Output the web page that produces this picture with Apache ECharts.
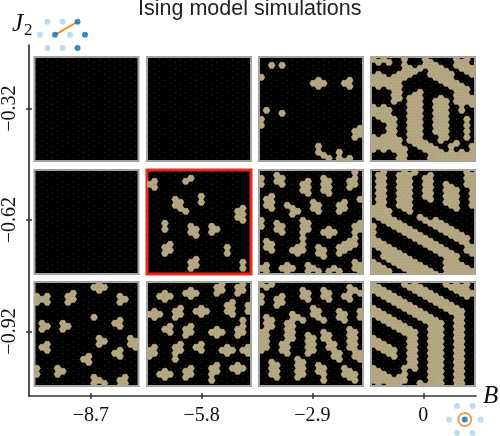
<!DOCTYPE html>
<html><head><meta charset="utf-8">
<style>html,body{margin:0;padding:0;background:#fff}#c{width:500px;height:436px}</style>
<script src="https://cdn.jsdelivr.net/npm/echarts@6/dist/echarts.min.js"></script>
</head><body><div id="c"></div>
<script>
// Axis values
const bLabels = [-8.7, -5.8, -2.9, 0];
const j2Labels = [-0.32, -0.62, -0.92];
// Spin-up sites as vertical runs [column, firstHalfRow, lastHalfRow]
const empty = [];
const r1c3 = [[2,2,2],[4,2,2],[0,6,6],[1,17,17],[0,20,22],[4,18,18],[10,8,8],[11,7,9],[12,8,8],[16,8,8],[17,7,9],[19,23,25],[18,24,26],[11,29,31],[12,32,32],[13,33,33],[15,31,33],[16,34,34],[17,33,33]];
const r1c4 = [[0,0,1],[0,5,9],[0,16,19],[0,26,30],[1,0,1],[1,5,9],[1,16,20],[1,26,30],[2,0,1],[2,5,9],[2,16,20],[2,26,30],[3,0,1],[3,6,10],[3,16,30],[4,6,14],[4,19,31],[5,4,13],[5,27,34],[6,0,7],[6,30,34],[7,3,6],[7,13,27],[8,3,5],[8,11,28],[9,3,4],[9,11,30],[10,0,3],[10,28,31],[11,0,5],[11,29,34],[12,2,6],[12,13,24],[12,30,34],[13,3,7],[13,13,27],[13,31,34],[14,4,8],[14,14,26],[14,32,34],[15,0,0],[15,5,10],[15,29,34],[16,0,2],[16,7,15],[16,27,29],[16,32,34],[17,0,3],[17,9,18],[17,30,34],[18,0,4],[18,10,14],[18,20,27],[18,32,34],[19,2,5],[19,12,15],[19,28,33]];
const r2c2 = [[1,3,5],[0,4,4],[7,3,3],[8,2,2],[10,8,10],[5,9,11],[6,10,12],[7,13,13],[3,17,19],[8,18,20],[9,19,21],[12,18,20],[13,19,19],[18,12,16],[17,13,15],[4,24,26],[3,25,27],[9,29,31],[8,30,32],[15,25,27],[18,30,32]];
const r2c3 = [[0,2,4],[3,1,3],[4,2,4],[9,3,7],[8,4,6],[12,2,6],[13,3,7],[18,0,4],[17,3,5],[1,9,11],[2,8,12],[6,12,14],[5,11,11],[7,13,13],[10,10,12],[11,11,13],[16,10,12],[15,11,13],[19,9,9],[0,16,18],[3,17,19],[4,18,20],[8,16,26],[9,17,19],[7,25,27],[6,26,26],[12,20,20],[14,20,20],[13,19,21],[19,17,19],[18,18,24],[17,23,25],[16,24,26],[15,25,27],[1,23,25],[2,24,26],[11,25,27],[12,26,28],[0,32,32],[1,31,33],[5,31,33],[6,32,32],[4,32,32],[9,31,33],[10,32,32],[11,33,33],[14,32,32],[15,33,33],[13,33,33],[19,31,33],[18,30,32]];
const r2c4 = [[0,11,14],[0,18,24],[0,29,34],[1,0,15],[1,22,26],[1,31,34],[2,0,17],[2,23,28],[2,32,34],[3,13,18],[3,24,29],[3,33,34],[4,15,19],[4,25,30],[5,0,11],[5,17,20],[5,26,31],[6,0,12],[6,17,21],[6,27,33],[7,0,13],[7,18,22],[7,28,34],[8,0,1],[8,19,23],[8,29,34],[9,0,0],[9,15,16],[9,21,24],[9,30,34],[10,2,9],[10,16,17],[10,22,25],[10,31,34],[11,0,10],[11,16,18],[11,23,26],[11,32,34],[12,16,19],[12,24,27],[12,33,34],[13,17,20],[13,25,28],[13,34,34],[14,3,11],[14,17,21],[14,26,29],[14,30,34],[15,4,12],[15,18,22],[15,27,34],[16,6,13],[16,19,23],[16,28,34],[17,20,24],[17,30,34],[18,0,4],[18,22,26],[18,32,34],[19,0,11],[19,24,27],[19,33,34]];
const r3c1 = [[11,1,1],[12,0,2],[13,1,1],[0,4,6],[1,5,5],[2,4,6],[7,3,5],[6,4,6],[16,4,6],[17,5,5],[11,11,11],[16,12,14],[15,13,13],[1,13,15],[2,14,14],[5,13,15],[6,14,14],[12,18,20],[13,19,19],[18,18,20],[19,19,21],[1,21,21],[2,20,22],[16,22,24],[15,23,23],[10,24,26],[9,25,25],[0,28,30],[4,28,30],[5,29,29],[11,31,33],[12,32,32],[13,33,33],[17,31,33],[16,32,34]];
const r3c2 = [[2,4,4],[3,3,5],[4,4,4],[7,3,3],[8,2,4],[9,3,3],[14,0,2],[13,1,3],[18,0,2],[17,1,3],[1,9,11],[2,10,10],[0,10,10],[6,8,10],[5,9,11],[10,8,10],[9,9,9],[11,9,9],[16,6,10],[15,7,9],[19,7,9],[4,14,16],[3,15,15],[8,14,16],[7,15,17],[13,15,17],[12,16,16],[14,16,16],[18,12,16],[17,15,17],[1,21,23],[0,22,24],[6,20,22],[5,21,25],[10,20,22],[9,21,21],[15,21,23],[14,22,22],[16,22,22],[19,21,23],[18,22,22],[3,29,31],[2,30,30],[4,30,30],[8,28,30],[7,29,31],[13,27,29],[12,28,32],[17,27,29],[16,28,28],[18,28,28]];
const r3c3 = [[2,0,0],[1,1,1],[0,0,0],[0,4,6],[4,4,6],[3,5,7],[8,2,4],[9,3,5],[12,2,4],[13,3,5],[16,4,4],[17,1,5],[18,2,2],[19,3,3],[10,8,10],[11,9,11],[12,12,12],[15,9,11],[16,10,12],[19,9,11],[1,11,21],[2,12,14],[0,16,22],[6,10,18],[7,11,11],[8,12,12],[5,13,23],[4,20,22],[9,17,23],[10,18,22],[12,16,18],[13,17,21],[14,20,24],[15,23,25],[17,15,21],[18,16,24],[19,23,25],[3,27,31],[2,26,30],[7,25,31],[8,26,30],[11,27,29],[12,28,32],[16,28,30],[17,29,31],[18,30,32]];
const r3c4 = [[0,0,2],[0,7,11],[0,17,21],[0,28,32],[1,0,3],[1,8,12],[1,18,22],[1,29,33],[2,1,4],[2,9,13],[2,19,23],[2,30,33],[3,2,5],[3,10,14],[3,20,24],[3,31,33],[4,3,6],[4,11,15],[4,22,25],[4,31,34],[5,0,0],[5,4,7],[5,12,16],[5,30,33],[6,0,1],[6,5,8],[6,13,17],[6,28,32],[7,0,2],[7,6,9],[7,14,28],[8,0,3],[8,7,10],[8,15,29],[9,1,4],[9,8,11],[9,33,34],[10,2,5],[10,9,12],[10,33,34],[11,3,5],[11,10,34],[12,4,7],[12,12,34],[13,0,0],[13,5,8],[13,13,34],[14,0,1],[14,6,9],[15,0,2],[15,7,10],[16,0,3],[16,8,34],[17,0,4],[17,9,34],[18,0,4],[19,2,4]];
const panels = [empty, empty, r1c3, r1c4, empty, r2c2, r2c3, r2c4, r3c1, r3c2, r3c3, r3c4];
// Inset lattices: [column, row]
const iconLightJ = [[1,0],[3,0],[0,1],[4,1],[1,2],[3,2]];
const iconDarkJ = [[5,0],[2,1],[6,1],[5,2]];
const iconBondJ = [[2,1],[5,0]];
const iconLightB = [[1,0],[3,0],[0,1],[4,1],[1,2],[3,2]];
const iconDarkB = [[2,1]];

const cols = 20, halfRows = 34;
const tan = '#b6a983', frame = '#a3a3a3', red = '#e9291b', ink = '#333';
const lefts = [34.5, 147, 259, 371], tops = [57, 170, 282], side = 104;
const grid = [], xAxis = [], yAxis = [], series = [];
const hide = {show:false};

function hex(params, api) {
  const p = api.coord([api.value(0), api.value(1)]);
  const R = api.size([1,0])[0] / 1.5, s = R * Math.sqrt(3) / 2;
  return {type:'polygon', shape:{points:[[p[0]-R,p[1]],[p[0]-R/2,p[1]-s],[p[0]+R/2,p[1]-s],[p[0]+R,p[1]],[p[0]+R/2,p[1]+s],[p[0]-R/2,p[1]+s]]},
    style:{fill:tan, stroke:tan, lineWidth:0.7, lineJoin:'round'}};
}
const sites = [];
for (let c = 0; c < cols; c++) for (let h = c % 2; h <= halfRows; h += 2) sites.push([c,h]);

panels.forEach((runs, i) => {
  const rw = Math.floor(i / 4), cl = i % 4, hot = i === 5;
  grid.push({left:lefts[cl], top:tops[rw], width:side, height:side, show:true, backgroundColor:'#000',
    borderColor: hot ? red : frame, borderWidth: hot ? 3 : 2});
  xAxis.push({type:'value', gridIndex:i, min:-0.44, max:19.56, show:false});
  yAxis.push({type:'value', gridIndex:i, min:-0.77, max:33.9, inverse:true, show:false});
  const cells = [];
  runs.forEach(([c,a,b]) => { for (let h = a; h <= b; h++) if ((c + h) % 2 === 0) cells.push([c,h]); });
  series.push({type:'custom', xAxisIndex:i, yAxisIndex:i, data:cells, renderItem:hex, clip:true, silent:true, z:2});
  series.push({type:'scatter', xAxisIndex:i, yAxisIndex:i, data:sites, symbolSize:1, silent:true, z:3,
    itemStyle:{color:'#6e6e6e', opacity:0.6}});
});

// Outer axes
const fmt = d => v => v === 0 ? '0' : v.toFixed(d).replace('-', '\u2212');
const labelFont = {fontFamily:'Liberation Serif', fontSize:20, color:'#111'};
const oi = panels.length;
grid.push({left:24, top:45, width:452, height:351, show:false});
const xr = {min:-10.32, max:1.38}, yr = {min:-1.0937, max:-0.1485};
xAxis.push({type:'value', gridIndex:oi, position:'bottom', ...xr, splitLine:hide,
  axisLine:{show:true, onZero:false, lineStyle:{color:ink, width:1.7}},
  axisTick:{show:true, length:3, customValues:bLabels, lineStyle:{color:ink, width:1.5}},
  axisLabel:{show:true, customValues:bLabels, formatter:fmt(1), margin:10, ...labelFont}});
xAxis.push({type:'value', gridIndex:oi, position:'bottom', ...xr, splitLine:hide,
  axisLine:{show:false, onZero:false},
  axisTick:{show:true, inside:true, length:3, customValues:bLabels, lineStyle:{color:ink, width:1.5}},
  axisLabel:{show:false}});
yAxis.push({type:'value', gridIndex:oi, position:'left', ...yr, splitLine:hide,
  axisLine:{show:true, onZero:false, lineStyle:{color:ink, width:1.7}},
  axisTick:{show:true, length:3, customValues:j2Labels, lineStyle:{color:ink, width:1.5}},
  axisLabel:{show:true, customValues:j2Labels, formatter:fmt(2), rotate:90, margin:9, ...labelFont}});
yAxis.push({type:'value', gridIndex:oi, position:'left', ...yr, splitLine:hide,
  axisLine:{show:false, onZero:false},
  axisTick:{show:true, inside:true, length:3, customValues:j2Labels, lineStyle:{color:ink, width:1.5}},
  axisLabel:{show:false}});

// Lattice insets
function inset(left, top, w, h, umax) {
  const g = grid.length;
  grid.push({left, top, width:w, height:h, show:false});
  const xi = xAxis.length, yi = yAxis.length;
  xAxis.push({type:'value', gridIndex:g, min:0, max:umax, show:false});
  yAxis.push({type:'value', gridIndex:g, min:0, max:2, inverse:true, show:false});
  return {xAxisIndex:xi, yAxisIndex:yi, silent:true, clip:false};
}
const light = '#a8d4ee', dark = '#0a6db5', orange = '#ee8a1e';
const a = inset(40, 21.7, 45, 26.3, 6);
series.push({type:'line', ...a, data:iconBondJ, symbol:'none', lineStyle:{color:orange, width:1.8}, z:3});
series.push({type:'scatter', ...a, data:iconLightJ, symbolSize:6, itemStyle:{color:light}, z:4});
series.push({type:'scatter', ...a, data:iconDarkJ, symbolSize:6, itemStyle:{color:dark}, z:4});
const b = inset(449, 406, 31.5, 27, 4);
series.push({type:'scatter', ...b, data:iconLightB, symbolSize:6, itemStyle:{color:light}, z:4});
series.push({type:'scatter', ...b, data:iconDarkB, symbolSize:6, itemStyle:{color:dark}, z:4});
series.push({type:'scatter', ...b, data:iconDarkB, symbolSize:13, itemStyle:{color:'rgba(0,0,0,0)', borderColor:orange, borderWidth:2}, z:5});

const chart = echarts.init(document.getElementById('c'), null, {renderer:'canvas', width:500, height:436});
chart.setOption({
  animation:false,
  title:[
    {text:'Ising model simulations', left:138, top:-2, padding:0, textStyle:{fontFamily:'Liberation Sans', fontSize:21.5, fontWeight:'normal', color:'#222'}},
    {text:'J', left:12, top:12, padding:0, textStyle:{fontFamily:'Liberation Serif', fontStyle:'italic', fontWeight:'normal', fontSize:25, color:'#111'}},
    {text:'2', left:24, top:22, padding:0, textStyle:{fontFamily:'Liberation Serif', fontWeight:'normal', fontSize:17, color:'#111'}},
    {text:'B', left:483, top:384, padding:0, textStyle:{fontFamily:'Liberation Serif', fontStyle:'italic', fontSize:25, fontWeight:'normal', color:'#111'}}
  ],
  grid, xAxis, yAxis, series
});
</script></body></html>
